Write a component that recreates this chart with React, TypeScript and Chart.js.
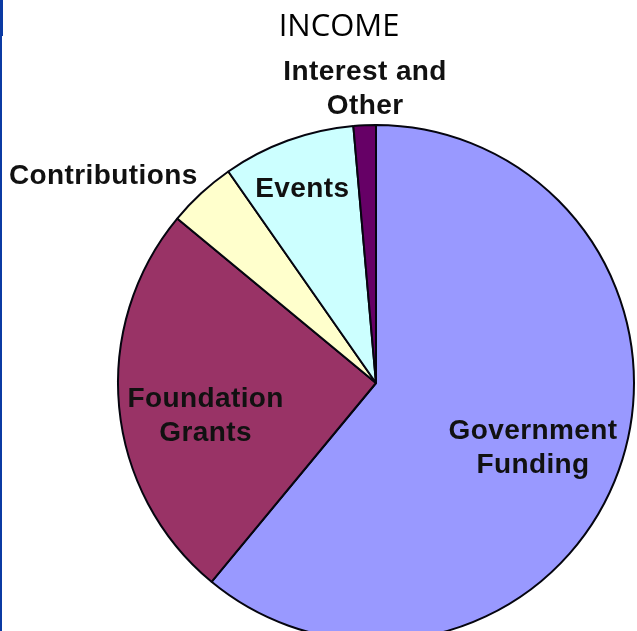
import React, { useEffect, useRef } from "react";
import { Chart, registerables } from "chart.js";

Chart.register(...registerables);

const chartTitle = "INCOME";
const categories = [
  "Government Funding",
  "Foundation Grants",
  "Contributions",
  "Events",
  "Interest and Other",
];
const labelLines = [
  ["Government", "Funding"],
  ["Foundation", "Grants"],
  ["Contributions"],
  ["Events"],
  ["Interest and", "Other"],
];
const incomeShares = [61.0, 25.0, 4.3, 8.3, 1.4];
const sliceColors = ["#9999FF", "#993366", "#FFFFCC", "#CCFFFF", "#660066"];

// label placement: distance as fraction of outer radius, angular nudge in degrees
const labelPlacement = [
  { r: 0.659, shift: 2.75 },
  { r: 0.673, shift: -5.7 },
  { r: 1.326, shift: -10.2 },
  { r: 0.805, shift: -0.8 },
  { r: 1.14, shift: 0.4 },
];

const CANVAS_W = 637;
const CANVAS_H = 660;

const sliceLabelPlugin = {
  id: "sliceLabels",
  afterDatasetsDraw(chart: any) {
    const ctx = chart.ctx as CanvasRenderingContext2D;
    const meta = chart.getDatasetMeta(0);
    ctx.save();
    ctx.font = "bold 28px 'Liberation Sans', Arial, sans-serif";
    (ctx as any).letterSpacing = "0.4px";
    ctx.fillStyle = "#111111";
    ctx.textAlign = "center";
    ctx.textBaseline = "middle";
    const lh = 34;
    meta.data.forEach((arc: any, i: number) => {
      const p = arc.getProps(["x", "y", "startAngle", "endAngle", "outerRadius"], true);
      const place = labelPlacement[i];
      const mid = (p.startAngle + p.endAngle) / 2 + (place.shift * Math.PI) / 180;
      const cx = p.x + Math.cos(mid) * p.outerRadius * place.r;
      const cy = p.y + Math.sin(mid) * p.outerRadius * place.r;
      const lines = labelLines[i];
      const y0 = cy - ((lines.length - 1) * lh) / 2;
      lines.forEach((ln, k) => ctx.fillText(ln, cx, y0 + k * lh));
    });
    ctx.restore();
  },
};

const titlePlugin = {
  id: "incomeTitle",
  afterDraw(chart: any) {
    const ctx = chart.ctx as CanvasRenderingContext2D;
    ctx.save();
    ctx.font = "500 31px 'Open Sans', sans-serif";
    ctx.fillStyle = "#000000";
    ctx.textAlign = "center";
    ctx.textBaseline = "middle";
    ctx.fillText(chartTitle, 339, 27);
    ctx.restore();
  },
};

export default function App() {
  const ref = useRef<HTMLCanvasElement | null>(null);

  useEffect(() => {
    document.body.style.margin = "0";
    document.body.style.overflow = "hidden";
    if (!ref.current) return;
    const chart = new Chart(ref.current, {
      type: "pie",
      data: {
        labels: categories,
        datasets: [
          {
            data: incomeShares,
            backgroundColor: sliceColors,
            borderColor: "#05050f",
            borderWidth: 2,
          },
        ],
      },
      options: {
        responsive: false,
        animation: false,
        events: [],
        layout: { padding: { left: 116, right: 1, top: 124, bottom: 18 } },
        plugins: {
          legend: { display: false },
          tooltip: { enabled: false },
          title: { display: false },
        },
      },
      plugins: [sliceLabelPlugin, titlePlugin],
    });
    return () => chart.destroy();
  }, []);

  return (
    <div
      style={{
        position: "fixed",
        left: 0,
        top: 0,
        width: 637,
        height: 631,
        overflow: "hidden",
        background: "#ffffff",
      }}
    >
      <canvas
        ref={ref}
        width={CANVAS_W}
        height={CANVAS_H}
        style={{ width: CANVAS_W, height: CANVAS_H, display: "block" }}
      />
      <div style={{ position: "absolute", left: 0, top: 0, width: 3, height: 36, background: "#0b3aa3" }} />
      <div style={{ position: "absolute", left: 0, top: 36, width: 2, height: 595, background: "#0b3aa3" }} />
    </div>
  );
}
